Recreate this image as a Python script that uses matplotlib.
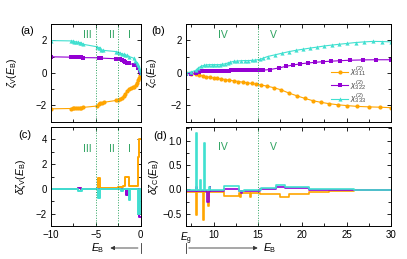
import numpy as np
import matplotlib
matplotlib.use("Agg")
import matplotlib.pyplot as plt
from matplotlib.ticker import MultipleLocator

plt.rcParams['font.family'] = ['Liberation Sans', 'DejaVu Sans']
plt.rcParams['mathtext.fontset'] = 'custom'
plt.rcParams['mathtext.rm'] = 'Liberation Sans'
plt.rcParams['mathtext.it'] = 'Liberation Sans:italic'
plt.rcParams['mathtext.bf'] = 'Liberation Sans:bold'

# colours
c311 = '#ffa500'
c322 = '#9400d3'
c333 = '#40e0d0'
cgreen = '#2ca25f'

Eg = 6.9

# ---- panel (a): valence band, zeta_V(E_B) ----
a_x311 = [-10, -7.8, -7.6, -7.4, -7.2, -7.0, -6.8, -6.6, -6.4, -4.9, -4.7, -4.5, -4.3, -4.1,
          -2.7, -2.5, -2.3, -2.1, -1.9, -1.7, -1.5, -1.3, -1.1, -0.9, -0.7, -0.5, -0.4, -0.3,
          -0.2, -0.1, 0]
a_y311 = [-2.22, -2.2, -2.19, -2.18, -2.18, -2.17, -2.16, -2.15, -2.13, -2.05, -1.95, -1.88,
          -1.85, -1.82, -1.7, -1.67, -1.62, -1.55, -1.45, -1.3, -1.1, -0.98, -0.93, -0.9,
          -0.85, -0.75, -0.6, -0.45, -0.3, -0.15, 0]
a_x322 = [-10, -7.8, -7.6, -7.4, -7.2, -7.0, -6.8, -6.6, -6.4, -4.7, -4.6, -4.5, -4.4,
          -2.7, -2.5, -2.3, -2.1, -1.9, -1.7, -1.5, -1.3, -0.8, -0.5, -0.3, -0.1, 0]
a_y322 = [0.98, 0.96, 0.95, 0.95, 0.94, 0.94, 0.94, 0.94, 0.93, 0.92, 0.92, 0.9, 0.9,
          0.86, 0.84, 0.83, 0.8, 0.75, 0.68, 0.62, 0.58, 0.5, 0.45, 0.3, 0.1, 0]
a_x333 = [-10, -7.8, -7.6, -7.4, -7.2, -7.0, -6.8, -6.6, -6.4, -4.9, -4.7, -4.55, -4.4, -4.2,
          -2.7, -2.5, -2.3, -2.1, -1.9, -1.7, -1.5, -1.3, -0.8, -0.6, -0.4, -0.3, -0.2, -0.1, 0]
a_y333 = [1.98, 1.96, 1.95, 1.92, 1.9, 1.88, 1.85, 1.82, 1.75, 1.6, 1.55, 1.5, 1.42, 1.38,
          1.3, 1.25, 1.2, 1.17, 1.13, 1.1, 1.07, 1.0, 0.9, 0.75, 0.6, 0.45, 0.3, 0.15, 0]

# ---- panel (b): conduction band, zeta_C(E_B) ----
b_x311 = [6.9, 7.5, 8.0, 8.4, 8.8, 9.2, 9.6, 10.0, 10.4, 10.8, 11.3, 11.8, 12.3, 12.8, 13.3,
          13.8, 14.3, 14.8, 15.3, 16.0, 16.8, 17.6, 18.5, 19.4, 20.3, 21.2, 22.1, 23.0, 24.0,
          25.0, 26.2, 27.5, 28.8, 30.0]
b_y311 = [0.0, -0.05, -0.1, -0.15, -0.2, -0.25, -0.28, -0.32, -0.35, -0.38, -0.42, -0.46,
          -0.5, -0.54, -0.58, -0.62, -0.66, -0.7, -0.75, -0.82, -0.92, -1.05, -1.25, -1.42,
          -1.58, -1.72, -1.82, -1.9, -1.97, -2.02, -2.07, -2.1, -2.12, -2.15]
b_x322 = [6.9, 7.5, 8.0, 8.4, 8.7, 9.0, 9.3, 9.6, 9.9, 10.2, 10.5, 10.8, 11.1, 11.4, 11.7,
          12.0, 12.4, 12.8, 13.2, 13.6, 14.0, 14.4, 14.8, 15.2, 15.6, 16.4, 17.4, 18.2, 19.0,
          19.8, 20.6, 21.4, 22.3, 23.2, 24.2, 25.4, 26.8, 28.3, 30.0]
b_y322 = [-0.05, -0.05, 0.0, 0.05, 0.08, 0.1, 0.11, 0.12, 0.12, 0.12, 0.12, 0.12, 0.13,
          0.13, 0.13, 0.14, 0.14, 0.14, 0.14, 0.15, 0.15, 0.15, 0.15, 0.15, 0.16, 0.2, 0.3,
          0.4, 0.48, 0.55, 0.6, 0.64, 0.68, 0.71, 0.74, 0.77, 0.79, 0.8, 0.8]
b_x333 = [6.9, 7.5, 8.0, 8.3, 8.6, 8.9, 9.2, 9.5, 9.8, 10.1, 10.4, 10.7, 11.0, 11.3, 11.6,
          11.9, 12.3, 12.7, 13.1, 13.5, 13.9, 14.3, 14.7, 15.2, 15.6, 16.1, 16.9, 17.7, 18.5,
          19.3, 20.1, 20.9, 21.7, 22.5, 23.3, 24.1, 25.0, 26.0, 27.0, 28.0, 29.0, 30.0]
b_y333 = [0.0, 0.05, 0.15, 0.3, 0.4, 0.45, 0.48, 0.5, 0.5, 0.5, 0.5, 0.5, 0.52, 0.55, 0.6,
          0.65, 0.7, 0.72, 0.74, 0.75, 0.75, 0.76, 0.78, 0.82, 0.9, 1.0, 1.1, 1.2, 1.3, 1.38,
          1.45, 1.52, 1.58, 1.65, 1.7, 1.75, 1.8, 1.86, 1.9, 1.93, 1.92, 1.9]

# ---- panel (c): delta zeta_V, step values ----
c_x311 = [-10, -7.0, -6.6, -4.75, -4.55, -2.5, -2.0, -1.8, -1.7, -1.35, -0.3, -0.15, 0]
c_y311 = [0.02, 0.1, 0.02, 0.85, 0.05, 0.15, 0.25, 0.6, 0.95, 0.2, 2.6, 4.0, 4.0]
c_x322 = [-10, -7.0, -6.7, -1.6, -1.45, -0.15, 0]
c_y322 = [0.0, 0.1, 0.0, -0.5, 0.0, -2.3, -2.3]
c_x333 = [-10, -7.0, -6.5, -4.75, -4.55, -2.2, -2.0, -1.35, -1.2, -0.3, -0.12, 0]
c_y333 = [0.0, -0.2, 0.0, -0.75, 0.0, -0.15, 0.0, -0.9, 0.0, -2.0, 0.0, 0.0]

# ---- panel (d): delta zeta_C, step values ----
d_x311 = [6.9, 8.0, 8.12, 8.85, 8.97, 9.35, 9.45, 11.2, 12.9, 13.0, 13.1, 14.1, 14.25, 15.2,
          17.5, 18.5, 20.8, 23.0, 25.8, 30]
d_y311 = [-0.05, -0.53, -0.05, -0.63, -0.05, -0.35, -0.06, -0.13, -0.08, -0.15, -0.08,
          -0.15, -0.08, -0.1, -0.15, -0.1, -0.05, -0.03, -0.02, -0.02]
d_x322 = [6.9, 8.0, 8.12, 9.3, 9.45, 9.55, 9.65, 11.2, 12.9, 13.1, 13.2, 15.2, 17.0, 18.0,
          20.8, 25.8, 30]
d_y322 = [-0.03, 0.05, -0.03, -0.25, -0.03, 0.05, -0.03, 0.0, -0.04, -0.08, -0.04, 0.0,
          0.05, 0.03, -0.01, -0.02, -0.02]
d_x333 = [6.9, 8.0, 8.12, 8.45, 8.58, 8.95, 9.07, 9.5, 9.6, 11.2, 12.9, 13.4, 15.3, 17.0,
          18.0, 20.8, 25.8, 30]
d_y333 = [-0.02, 1.15, -0.02, 0.2, -0.02, 0.95, -0.02, 0.05, -0.02, 0.08, -0.03, -0.02,
          0.03, 0.1, 0.04, 0.01, -0.02, -0.02]

labels = [r'$\chi^{(2)}_{311}$', r'$\chi^{(2)}_{322}$', r'$\chi^{(2)}_{333}$']

W, H = 407, 259
fig = plt.figure(figsize=(W / 100, H / 100), dpi=100)


def px_ax(l, t, r, b):
    return fig.add_axes([l / W, 1 - b / H, (r - l) / W, (b - t) / H])


ax_a = px_ax(51, 24, 140.7, 121.5)
ax_b = px_ax(186, 24, 391, 121.5)
ax_c = px_ax(51, 127, 140.7, 226)
ax_d = px_ax(186, 127, 391, 226)

for ax in (ax_a, ax_b, ax_c, ax_d):
    ax.tick_params(which='both', direction='in', top=True, right=True,
                   labelsize=7, width=0.6, pad=3)
    ax.tick_params(which='major', length=3)
    ax.tick_params(which='minor', length=2)
    for s in ax.spines.values():
        s.set_linewidth(0.7)

lk = dict(lw=0.8, ms=3.0, mew=0)
# (a)
ax_a.plot(a_x311, a_y311, '-o', color=c311, **lk)
ax_a.plot(a_x322, a_y322, '-s', color=c322, **lk)
ax_a.plot(a_x333, a_y333, '-^', color=c333, **lk)
# (b)
ax_b.plot(b_x311, b_y311, '-o', color=c311, label=labels[0], **lk)
ax_b.plot(b_x322, b_y322, '-s', color=c322, label=labels[1], **lk)
ax_b.plot(b_x333, b_y333, '-^', color=c333, label=labels[2], **lk)
# (c)
ax_c.plot(c_x311, c_y311, drawstyle='steps-post', color=c311, lw=1.4)
ax_c.plot(c_x322, c_y322, drawstyle='steps-post', color=c322, lw=1.4)
ax_c.plot(c_x333, c_y333, drawstyle='steps-post', color=c333, lw=1.4)
# (d)
ax_d.plot(d_x311, d_y311, drawstyle='steps-post', color=c311, lw=1.2)
ax_d.plot(d_x322, d_y322, drawstyle='steps-post', color=c322, lw=1.2)
ax_d.plot(d_x333, d_y333, drawstyle='steps-post', color=c333, lw=1.2)

# axes ranges / ticks
for ax in (ax_a, ax_c):
    ax.set_xlim(-10, 0)
    ax.xaxis.set_major_locator(MultipleLocator(5))
    ax.xaxis.set_minor_locator(MultipleLocator(2.5))
    ax.axvline(-5, color=cgreen, ls=':', lw=0.7)
    ax.axvline(-2.5, color=cgreen, ls=':', lw=0.7)
for ax in (ax_b, ax_d):
    ax.set_xlim(Eg, 30)
    ax.set_xticks([Eg, 10, 15, 20, 25, 30])
    ax.xaxis.set_minor_locator(MultipleLocator(2.5))
    ax.axvline(15, color=cgreen, ls=':', lw=0.7)
for ax in (ax_a, ax_b):
    ax.set_ylim(-3, 3)
    ax.yaxis.set_major_locator(MultipleLocator(2))
    ax.yaxis.set_minor_locator(MultipleLocator(1))
    ax.tick_params(labelbottom=False)
ax_c.set_ylim(-3, 5)
ax_c.yaxis.set_major_locator(MultipleLocator(2))
ax_c.yaxis.set_minor_locator(MultipleLocator(1))
ax_d.set_ylim(-0.75, 1.28)
ax_d.yaxis.set_major_locator(MultipleLocator(0.5))
ax_d.yaxis.set_minor_locator(MultipleLocator(0.25))
ax_d.set_xticklabels([r'$E_\mathrm{g}$', '10', '15', '20', '25', '30'])

# y labels
ax_a.set_ylabel(r'$\zeta_\mathrm{V}(E_\mathrm{B})$', fontsize=7.5)
ax_a.yaxis.set_label_coords(-0.36, 0.5)
ax_b.set_ylabel(r'$\zeta_\mathrm{C}(E_\mathrm{B})$', fontsize=7.5)
ax_b.yaxis.set_label_coords(-0.13, 0.5)
ax_c.set_ylabel(r'$\delta\zeta_\mathrm{V}(E_\mathrm{B})$', fontsize=7.5)
ax_c.yaxis.set_label_coords(-0.26, 0.5)
ax_d.set_ylabel(r'$\delta\zeta_\mathrm{C}(E_\mathrm{B})$', fontsize=7.5)
ax_d.yaxis.set_label_coords(-0.12, 0.5)

# region labels
gk = dict(color=cgreen, fontsize=7.5, ha='center', va='center')
for ax, yy in ((ax_a, 2.3), (ax_c, 3.2)):
    ax.text(-6.0, yy, 'III', **gk)
    ax.text(-3.2, yy, 'II', **gk)
    ax.text(-1.3, yy, 'I', **gk)
for ax, yy in ((ax_b, 2.3), (ax_d, 0.88)):
    ax.text(11.0, yy, 'IV', **gk)
    ax.text(16.8, yy, 'V', **gk)

# legend
ax_b.legend(loc='upper left', bbox_to_anchor=(0.69, 0.62), frameon=False,
            fontsize=5.8, handlelength=2.0, handletextpad=0.3, labelspacing=-0.15,
            borderpad=0, labelcolor='#444444')

# panel tags
fig.text(27 / W, 1 - 31 / H, '(a)', fontsize=8, ha='center', va='center')
fig.text(158 / W, 1 - 31 / H, '(b)', fontsize=8, ha='center', va='center')
fig.text(25 / W, 1 - 135 / H, '(c)', fontsize=8, ha='center', va='center')
fig.text(160 / W, 1 - 136 / H, '(d)', fontsize=8, ha='center', va='center')

# E_B direction arrows under the bottom panels
ya = -(248 - 226) / 99
ak = dict(arrowstyle='-|>', lw=0.6, color='#333333', mutation_scale=6)
tc = ax_c.get_xaxis_transform()
ax_c.annotate('', xy=(-3.7, ya), xytext=(0, ya), xycoords=tc, textcoords=tc,
              arrowprops=ak, annotation_clip=False)
ax_c.plot([0, 0], [ya - 0.05, ya + 0.05], transform=tc, color='#333333', lw=0.6,
          clip_on=False)
ax_c.text(-4.8, ya, r'$E_\mathrm{B}$', transform=tc, fontsize=7.5, ha='center',
          va='center')
td = ax_d.get_xaxis_transform()
ax_d.annotate('', xy=(15.3, ya), xytext=(Eg, ya), xycoords=td, textcoords=td,
              arrowprops=ak, annotation_clip=False)
ax_d.plot([Eg, Eg], [ya - 0.05, ya + 0.05], transform=td, color='#333333', lw=0.6,
          clip_on=False)
ax_d.text(16.3, ya, r'$E_\mathrm{B}$', transform=td, fontsize=7.5, ha='center',
          va='center')

fig.savefig('out.png', dpi=100)
